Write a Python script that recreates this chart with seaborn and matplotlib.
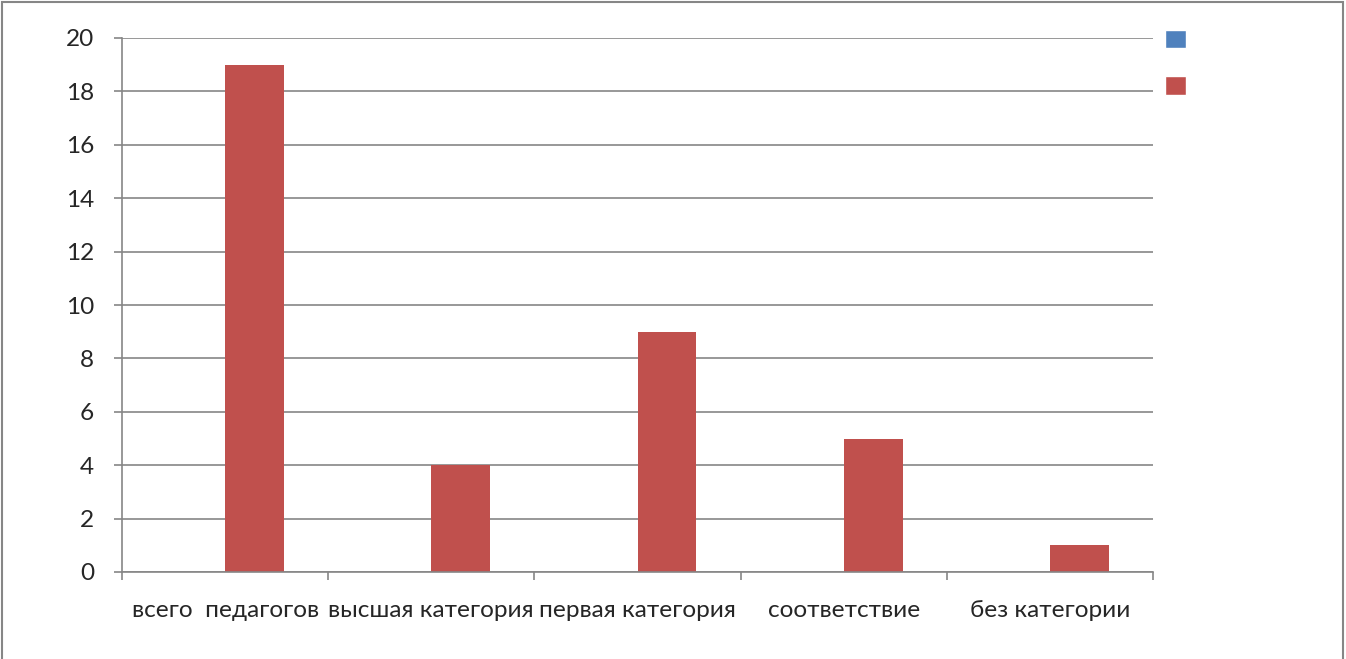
import matplotlib
matplotlib.use("Agg")
import matplotlib.pyplot as plt
import seaborn as sns
import pandas as pd
from matplotlib.patches import Patch, Rectangle

categories = ["всего  педагогов", "высшая категория", "первая категория", "соответствие", "без категории"]
series1_values = [0, 0, 0, 0, 0]
series2_values = [19, 4, 9, 5, 1]
y_ticks = [0, 2, 4, 6, 8, 10, 12, 14, 16, 18, 20]

sns.set_style("white")
plt.rcParams['font.family'] = ['Lato', 'DejaVu Sans']

df = pd.DataFrame({
    "cat": categories * 2,
    "val": series1_values + series2_values,
    "series": ["Ряд 1"] * len(categories) + ["Ряд 2"] * len(categories),
})

colors = {"Ряд 1": "#4F81BD", "Ряд 2": "#C0504D"}
grid_c = "#868686"
fs = 17.6

fig = plt.figure(figsize=(13.46, 6.59), dpi=100)
ax = fig.add_axes([122/1346, 1 - 572/659, (1153-122)/1346, (572-38)/659])

sns.barplot(data=df, x="cat", y="val", hue="series", palette=colors,
            width=0.571, ax=ax, legend=False, saturation=1, edgecolor="none")

ax.set_xlim(-0.5, len(categories) - 0.5)
ax.set_ylim(0, 20)
ax.set_yticks(y_ticks)
ax.set_yticklabels([str(t) for t in y_ticks], fontsize=fs)
ax.yaxis.grid(True, color=grid_c, linewidth=1.2)
ax.set_axisbelow(True)
ax.set_xlabel("")
ax.set_ylabel("")

ax.set_xticks(range(len(categories)))
ax.set_xticklabels(categories, fontsize=fs)
ax.tick_params(axis="x", which="major", length=0, pad=20, bottom=True)
ax.set_xticks([i - 0.5 for i in range(len(categories) + 1)], minor=True)
ax.tick_params(axis="x", which="minor", length=6, color=grid_c, width=1.2,
               direction="out", bottom=True)
ax.tick_params(axis="y", length=6, color=grid_c, width=1.2, pad=14,
               direction="out", left=True)

for s in ["top", "right"]:
    ax.spines[s].set_visible(False)
for s in ["left", "bottom"]:
    ax.spines[s].set_color(grid_c)
    ax.spines[s].set_linewidth(1.2)

handles = [Patch(facecolor=colors["Ряд 1"]), Patch(facecolor=colors["Ряд 2"])]
fig.legend(handles, ["", ""], loc="upper left", bbox_to_anchor=(1155/1346, 1 - 20/659),
           frameon=False, handlelength=1.1, handleheight=1.1, labelspacing=1.4,
           fontsize=14, handletextpad=0.2, borderpad=0)

fig.patches.append(Rectangle((2/1346, -0.01), 1341/1346, 1 - 2/659 + 0.01,
                             transform=fig.transFigure, fill=False,
                             edgecolor=grid_c, linewidth=1.5))

fig.savefig("out.png", dpi=100)
